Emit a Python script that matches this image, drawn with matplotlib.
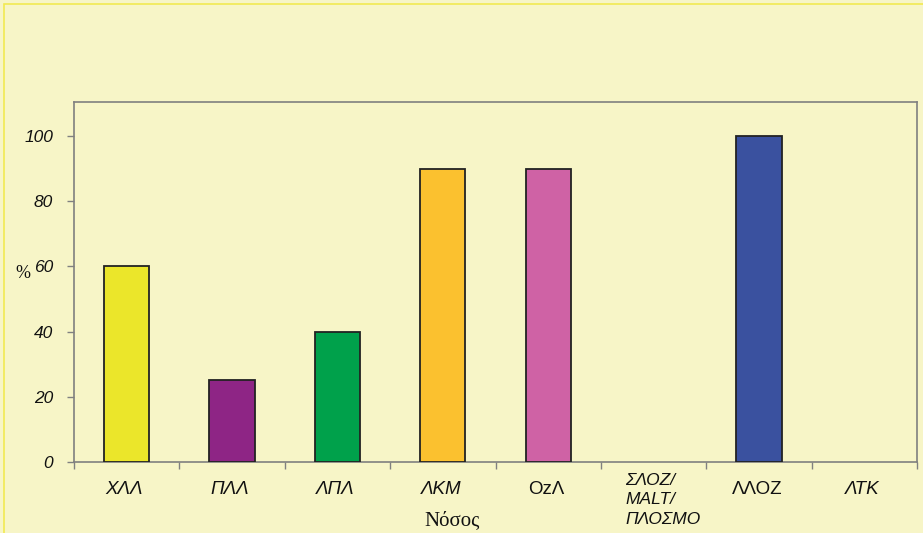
import matplotlib
matplotlib.use("Agg")
import matplotlib.pyplot as plt
from matplotlib.patches import Rectangle
import matplotlib.transforms as mtransforms

categories = ["ΧΛΛ", "ΠΛΛ", "ΛΠΛ", "ΛΚΜ", "ΟzΛ", "ΣΛΟΖ/\nMALT/\nΠΛΟΣΜΟ", "ΛΛΟΖ", "ΛΤΚ"]
values = [60, 25, 40, 90, 90, 0, 100, 0]
colors = ["#EBE62A", "#8E2585", "#00A14B", "#FBC12F", "#CF62A5", "#FFFFFF", "#3A519F", "#FFFFFF"]
italic = [True, True, True, True, False, True, False, True]
yticks = [0, 20, 40, 60, 80, 100]

W, H = 923, 533
fig = plt.figure(figsize=(W / 100, H / 100), dpi=100)
bg = "#F7F5C7"
fig.patch.set_facecolor(bg)
frame = Rectangle((4 / W, -0.1), 1.2, (H - 4) / H + 0.1, transform=fig.transFigure,
                  facecolor=bg, edgecolor="#F2EA52", linewidth=1.2, zorder=-10)
fig.add_artist(frame)

ax = fig.add_axes([74 / W, 1 - 462 / H, (917 - 74) / W, (462 - 102) / H])
ax.set_zorder(5)
ax.set_facecolor(bg)
x = list(range(len(categories)))
edges = ["#222222" if v > 0 else "none" for v in values]
ax.bar(x, values, width=0.43, color=colors, edgecolor=edges, linewidth=1.3, zorder=3)
ax.set_xlim(-0.5, len(categories) - 0.5)
ax.set_ylim(0, 110.4)

for s in ax.spines.values():
    s.set_color("#808080")
    s.set_linewidth(1.2)

ax.set_yticks(yticks)
ax.set_yticklabels([str(v) for v in yticks])
for lab in ax.get_yticklabels():
    lab.set_fontfamily("Liberation Sans")
    lab.set_fontstyle("italic")
    lab.set_fontsize(12.5)
    lab.set_color("#111111")
ax.tick_params(axis="y", direction="out", length=5, width=1, color="#808080", pad=10)

ax.set_xticks([i - 0.5 for i in range(len(categories) + 1)])
ax.set_xticklabels([])
ax.tick_params(axis="x", direction="out", length=5, width=1, color="#808080")

trans = mtransforms.blended_transform_factory(ax.transData, fig.transFigure)
for i, (c, it) in enumerate(zip(categories, italic)):
    if "\n" in c:
        ax.text(i - 0.27, 1 - 500 / H, c, transform=trans, ha="left", va="center",
                fontfamily="Liberation Sans", fontstyle="italic", fontsize=12.5,
                color="#111111", linespacing=1.4, clip_on=False)
    else:
        ax.text(i - 0.02, 1 - 490 / H, c, transform=trans, ha="center", va="center",
                fontfamily="Liberation Sans", fontstyle="italic" if it else "normal",
                fontsize=13.5, color="#111111", clip_on=False)

fig.text(452 / W, 1 - 521 / H, "Νόσος", ha="center", va="center",
         fontfamily="Liberation Serif", fontsize=15, color="#111111", zorder=10)
fig.text(23 / W, 1 - 274 / H, "%", ha="center", va="center",
         fontfamily="Liberation Serif", fontsize=13, color="#111111", zorder=10)

fig.savefig("out.png", dpi=100, facecolor=bg)
